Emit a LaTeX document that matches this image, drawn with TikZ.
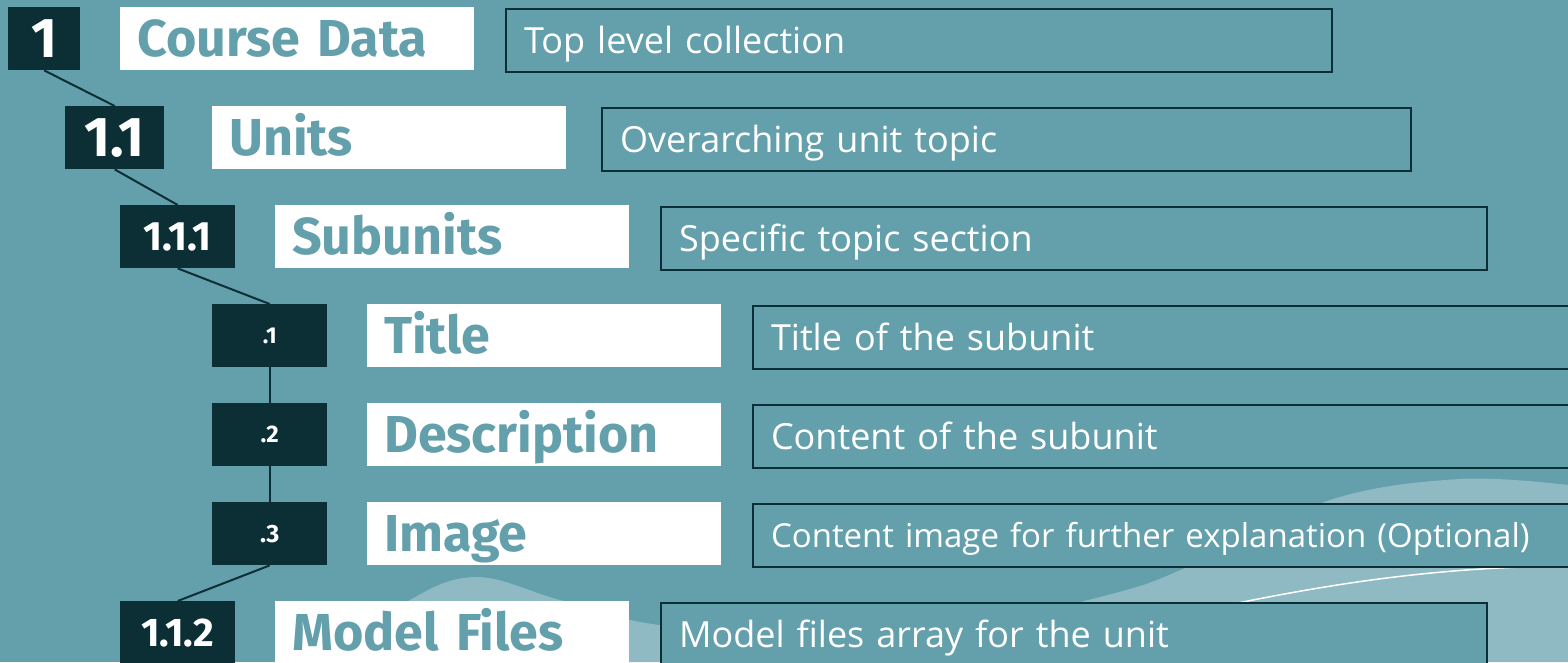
\documentclass[tikz,border=0pt]{standalone}
\usepackage{fontspec}
\setmainfont{Open Sans}
\newfontfamily\headfont{Fira Sans}[Numbers=Proportional]
\newcommand\numsize[1]{\headfont\bfseries\fontsize{#1}{#1}\selectfont}
\definecolor{seablue}{HTML}{63A0AB}
\definecolor{deepteal}{HTML}{0C2E35}
\definecolor{foam}{HTML}{8FB9C3}
\begin{document}
\begin{tikzpicture}
            [
                x = 1pt, y = -1pt,
                every node/.style = {anchor=north west, minimum height=63pt,
                inner ysep=0pt},
                numbox/.style     = {fill=deepteal, text=white, inner xsep=0pt,
                minimum width=#1},
                titlebox/.style   = {fill=white, text=seablue, inner xsep=17pt,
                text width=320pt, align=left, text height=36pt, text depth=0pt,
                font=\headfont\bfseries\fontsize{52}{56}\selectfont},
                descbox/.style    = {draw=deepteal, line width=2pt, fill=seablue,
                text=white, inner xsep=18pt, text width=#1, align=left,
                text height=26pt, text depth=0pt,
                font=\fontsize{36}{40}\selectfont},
                link/.style       = {draw=deepteal, line width=2pt}
            ]
            \clip (0,0) rectangle (1568,662);
            \fill[seablue] (0,0) rectangle (1568,662);
            \fill[foam] plot[smooth, tension=0.6] coordinates {(330,662) (410,600)
                (477,577) (560,600) (659,625) (880,645) (1100,597) (1190,566)
                (1330,500) (1460,479) (1568,485)} -- (1568,662) -- cycle;
            \draw[white, line width=1.5pt] (1150,622) .. controls (1300,588)
                and (1420,567) .. (1568,566);

            \node[numbox=72pt, font=\numsize{56}] (n1) at (8,7) {1};
            \node[titlebox] (t1) at (120,7) {Course Data};
            \node[descbox=790pt] (d1) at (505,8) {Top level collection};

            \node[numbox=99pt, font=\numsize{56}] (n11) at (65,106) {1.1};
            \node[titlebox] (t11) at (212,106) {Units};
            \node[descbox=773pt] (d11) at (601,107) {Overarching unit topic};

            \node[numbox=115pt, font=\numsize{41}] (n111) at (120,205) {1.1.1};
            \node[titlebox] (t111) at (275,205) {Subunits};
            \node[descbox=790pt] (d111) at (660,206) {Specific topic section};

            \node[numbox=115pt, font=\numsize{23}] (s1) at (212,304) {.1};
            \node[titlebox] (ts1) at (367,304) {Title};
            \node[descbox=864pt] (ds1) at (752,305) {Title of the subunit};

            \node[numbox=115pt, font=\numsize{24}] (s2) at (212,403) {.2};
            \node[titlebox] (ts2) at (367,403) {Description};
            \node[descbox=864pt] (ds2) at (752,404) {Content of the subunit};

            \node[numbox=115pt, font=\numsize{25}] (s3) at (212,502) {.3};
            \node[titlebox] (ts3) at (367,502) {Image};
            \node[descbox=864pt, font=\fontsize{33}{36}\selectfont, text height=24pt]
                (ds3) at (752,503) {Content image for further explanation (Optional)};

            \node[numbox=115pt, font=\numsize{40}] (n112) at (120,601) {1.1.2};
            \node[titlebox] (t112) at (275,601) {Model Files};
            \node[descbox=790pt] (d112) at (660,602) {Model files array for the unit};

            \draw[link] (n1.south) -- (n11.north);
            \draw[link] (n11.south) -- (n111.north);
            \draw[link] (n111.south) -- (s1.north);
            \draw[link] (s1.south) -- (s2.north);
            \draw[link] (s2.south) -- (s3.north);
            \draw[link] (s3.south) -- (n112.north);
        \end{tikzpicture}
\end{document}
